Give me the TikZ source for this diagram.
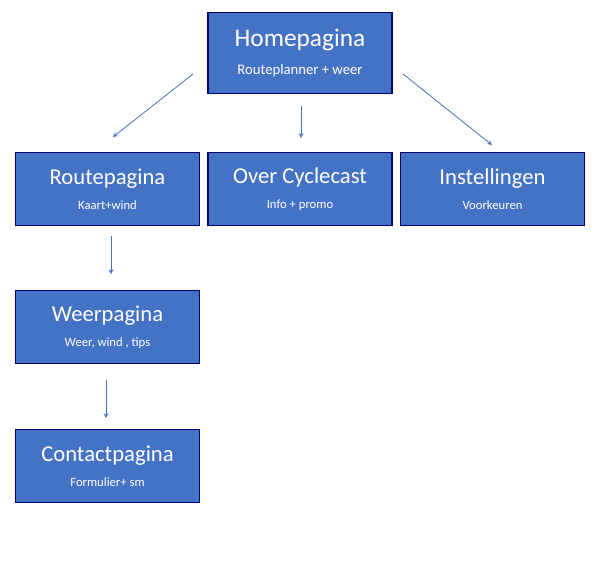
\documentclass[tikz,border=0pt]{standalone}
\usepackage{fontspec}
\setmainfont{Carlito}
\usetikzlibrary{positioning}
\tikzstyle{page} = [rectangle, draw=blue!45!black, line width=0.8pt, fill={rgb,255:red,68;green,114;blue,196},
    text=white, align=center, minimum width=138pt, minimum height=55pt, inner sep=0pt]
\tikzstyle{line} = [draw={rgb,255:red,68;green,114;blue,196}, line width=0.6pt, -stealth]
\begin{document}
\begin{tikzpicture}[x=0.75pt, y=-0.75pt]
  \useasboundingbox (0,0) rectangle (601,578);
  % Place nodes
  \node [page, minimum height=61pt] (home) at (300,53)
    {\fontsize{19}{22}\selectfont Homepagina\\[9pt]\fontsize{11}{13}\selectfont Routeplanner + weer};
  \node [page] (route) at (107.5,189)
    {\fontsize{17}{20}\selectfont Routepagina\\[7pt]\fontsize{9.5}{11}\selectfont Kaart+wind};
  \node [page] (over) at (300,189)
    {\fontsize{17}{20}\selectfont Over Cyclecast\\[7pt]\fontsize{9.5}{11}\selectfont Info + promo};
  \node [page] (inst) at (492.5,189)
    {\fontsize{17}{20}\selectfont Instellingen\\[7pt]\fontsize{9.5}{11}\selectfont Voorkeuren};
  \node [page] (weer) at (107.5,327)
    {\fontsize{17}{20}\selectfont Weerpagina\\[7pt]\fontsize{9.5}{11}\selectfont Weer, wind , tips};
  \node [page] (contact) at (107.5,466)
    {\fontsize{17}{20}\selectfont Contactpagina\\[7pt]\fontsize{9.5}{11}\selectfont Formulier+ sm};

  % Draw edges
  \coordinate (h1) at (193,74);
  \coordinate (h2) at (301,106);
  \coordinate (h3) at (403,74);
  \coordinate (r1) at (111,236);
  \coordinate (w1) at (106,380);
  \path [line] (h1) -- (113,137) coordinate (routein);
  \path [line] (h2) -- (301,138) coordinate (overin);
  \path [line] (h3) -- (492,145) coordinate (instin);
  \path [line] (r1) -- (111,274) coordinate (weerin);
  \path [line] (w1) -- (106,418) coordinate (contactin);
\end{tikzpicture}
\end{document}
